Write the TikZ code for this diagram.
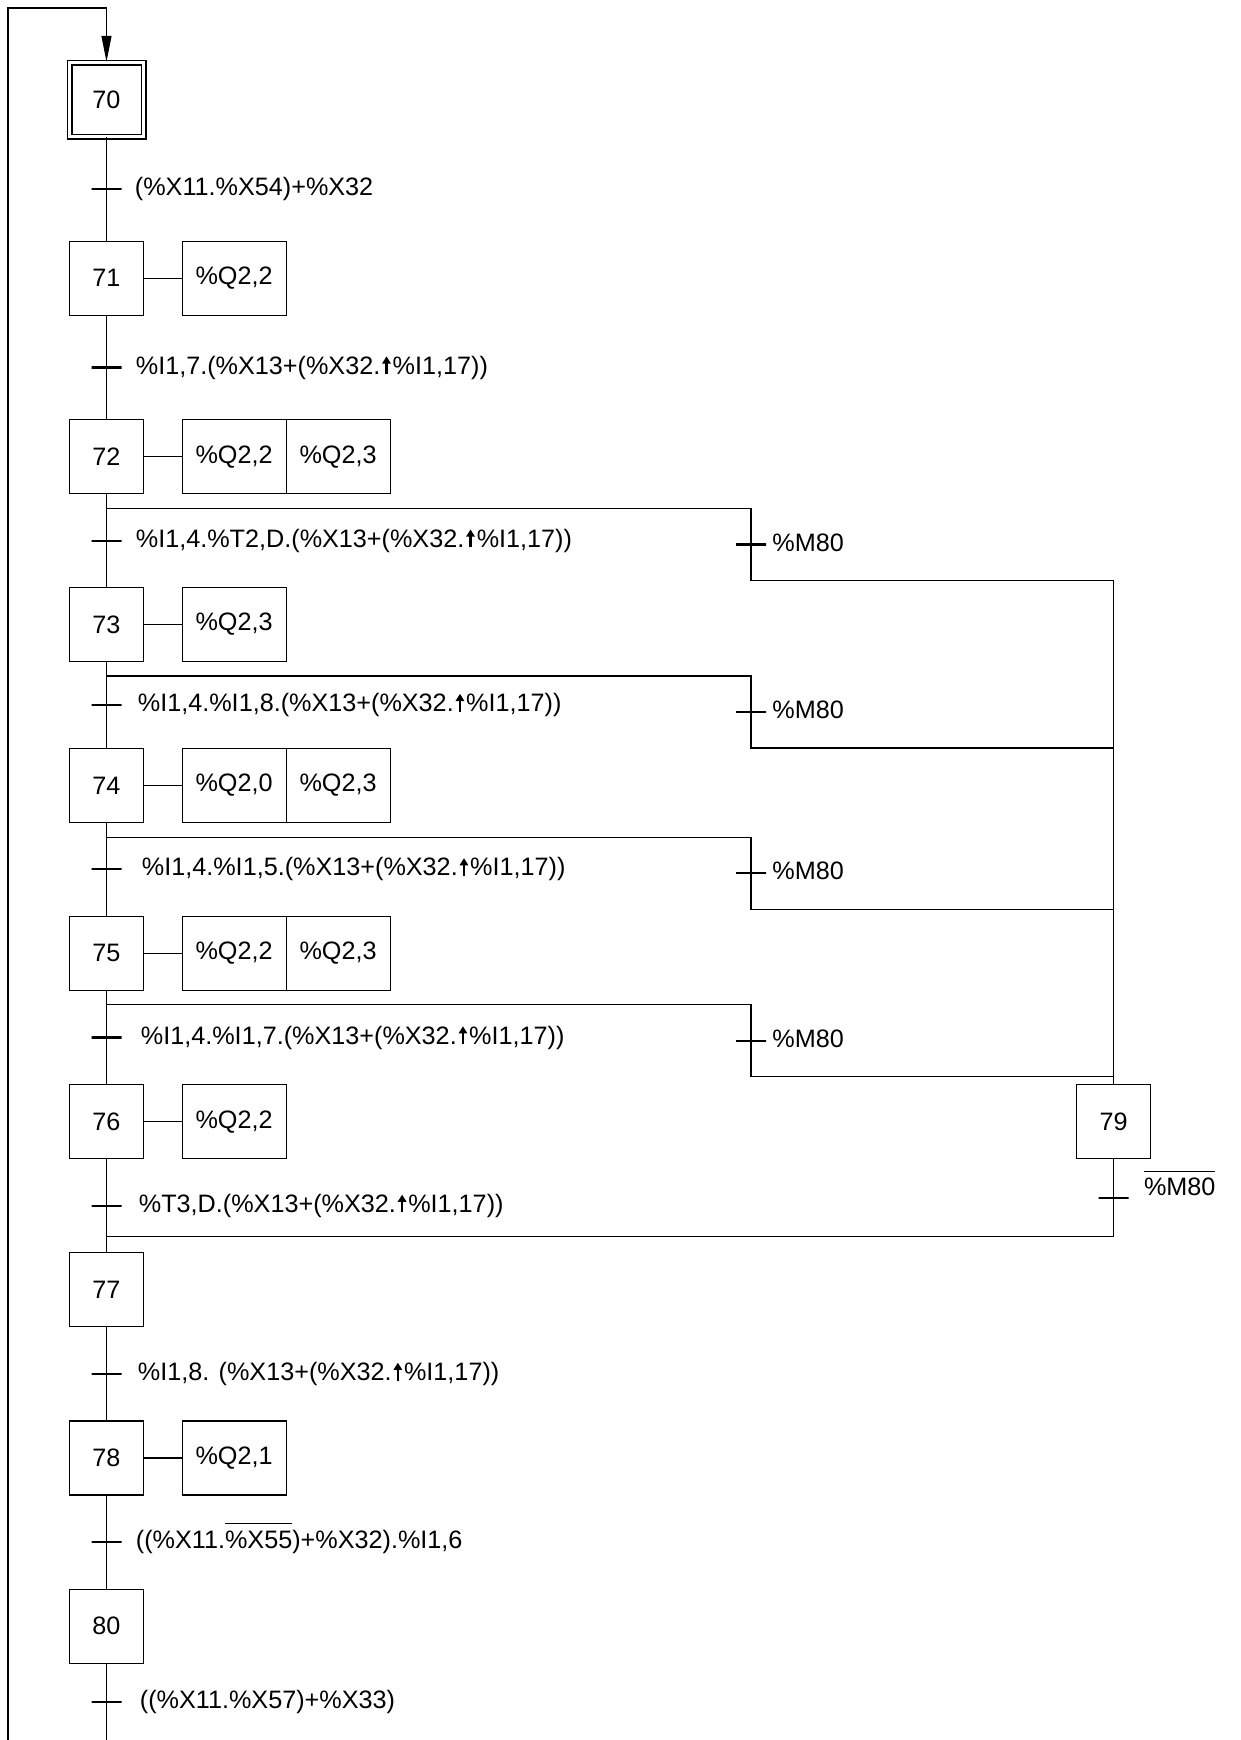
\documentclass[tikz,border=0pt]{standalone}
\usepackage{fontspec}
\setmainfont{Liberation Sans}
\usetikzlibrary{arrows.meta,positioning}
\newcommand{\negsig}[1]{$\overline{\hbox{\rule{0pt}{11pt}#1}}$}
\newcommand{\rising}{\kern1pt\tikz[baseline=0pt, x=1pt, y=1pt]
  \draw[line width=1.1pt, -{Triangle[length=3.6pt, width=4.2pt]}] (0,0) -- (0,8.9);\kern1pt}

\begin{document}
\begin{tikzpicture}[
  x=0.5pt, y=-0.5pt,
  font=\fontsize{12.6pt}{15pt}\selectfont,
  line/.style={draw=black, line width=0.55pt},
  stepbox/.style={line, minimum width=37pt, minimum height=37pt, inner sep=0pt},
  initstep/.style={stepbox, double, double distance=1.6pt, line width=0.7pt},
  action/.style={line, minimum width=52pt, minimum height=37pt, inner sep=0pt, outer sep=0pt},
  bar/.style={draw=black, line width=1.1pt, minimum width=15pt, minimum height=0pt,
    inner sep=0pt, outer sep=0pt},
  cond/.style={inner sep=0pt, text height=9.2pt, text depth=2.6pt},
  back/.style={line, -{Triangle[length=13pt, width=5pt]}}
]
\useasboundingbox (0,0) rectangle (1241,1740);

\node[initstep] (s70) at (106.5,99.5) {70};
\node[stepbox, below=51.75pt of s70] (s71) {71};
\node[stepbox, below=51.75pt of s71] (s72) {72};
\node[stepbox, below=46.25pt of s72] (s73) {73};
\node[stepbox, below=43pt of s73] (s74) {74};
\node[stepbox, below=46.25pt of s74] (s75) {75};
\node[stepbox, below=46.75pt of s75] (s76) {76};
\node[stepbox, below=46.5pt of s76] (s77) {77};
\node[stepbox, below=46.5pt of s77] (s78) {78};
\node[stepbox, below=46.5pt of s78] (s80) {80};
\node[stepbox, right=466pt of s76] (s79) {79};

\node[action, right=19pt of s71] (a71) {\%Q2,2};
\node[action, right=19pt of s72] (a72) {\%Q2,2};
\node[action, right=0pt of a72] (b72) {\%Q2,3};
\node[action, right=19pt of s73] (a73) {\%Q2,3};
\node[action, right=19pt of s74] (a74) {\%Q2,0};
\node[action, right=0pt of a74] (b74) {\%Q2,3};
\node[action, right=19pt of s75] (a75) {\%Q2,2};
\node[action, right=0pt of a75] (b75) {\%Q2,3};
\node[action, right=19pt of s76] (a76) {\%Q2,2};
\node[action, right=19pt of s78] (a78) {\%Q2,1};

\foreach \a/\b in {70/71,71/72,72/73,73/74,74/75,75/76,76/77,77/78,78/80}
  \draw[line] (s\a) -- node[bar] (t\a) {} (s\b);
\foreach \s in {71,72,73,74,75,76,78}
  \draw[line] (s\s) -- (a\s);

\foreach \s in {72,73,74,75}
  \draw[line] (s\s.south) ++(0,14) -- ++(644.5,0) -- node[bar] (m\s) {} ++(0,72) -| (s79.north);
\draw[line] (s79.south) -- node[bar] (m79) {} ++(0,77) -| (s77.north);

\coordinate (loop) at (8,1740);
\coordinate (corner) at (8,8);
\draw[back] (loop) -- (corner) -| (s70.north);
\draw[line] (s80) -- node[bar] (t80) {} (s80 |- loop);

\node[cond, right=6.5pt of t70] (c70) {(\%X11.\%X54)+\%X32};
\node[cond, right=7pt of t71] (c71) {\%I1,7.(\%X13+(\%X32.\rising\%I1,17))};
\node[cond, right=7pt of t72] (c72) {\%I1,4.\%T2,D.(\%X13+(\%X32.\rising\%I1,17))};
\node[cond, right=8pt of t73] (c73) {\%I1,4.\%I1,8.(\%X13+(\%X32.\rising\%I1,17))};
\node[cond, right=10pt of t74] (c74) {\%I1,4.\%I1,5.(\%X13+(\%X32.\rising\%I1,17))};
\node[cond, right=9.5pt of t75] (c75) {\%I1,4.\%I1,7.(\%X13+(\%X32.\rising\%I1,17))};
\node[cond, right=8.5pt of t76] (c76) {\%T3,D.(\%X13+(\%X32.\rising\%I1,17))};
\node[cond, right=8pt of t77] (c77) {\%I1,8. (\%X13+(\%X32.\rising\%I1,17))};
\node[cond, right=7pt of t78] (c78) {((\%X11.\negsig{\%X55})+\%X32).\%I1,6};
\node[cond, right=9pt of t80] (c80) {((\%X11.\%X57)+\%X33)};
\foreach \s in {72,73,74,75}
  \node[cond, right=3pt of m\s] (g\s) {\%M80};
\node[cond, anchor=base west, xshift=7.5pt, yshift=1pt] (c79) at (m79.east) {\negsig{\%M80}};

\end{tikzpicture}
\end{document}
